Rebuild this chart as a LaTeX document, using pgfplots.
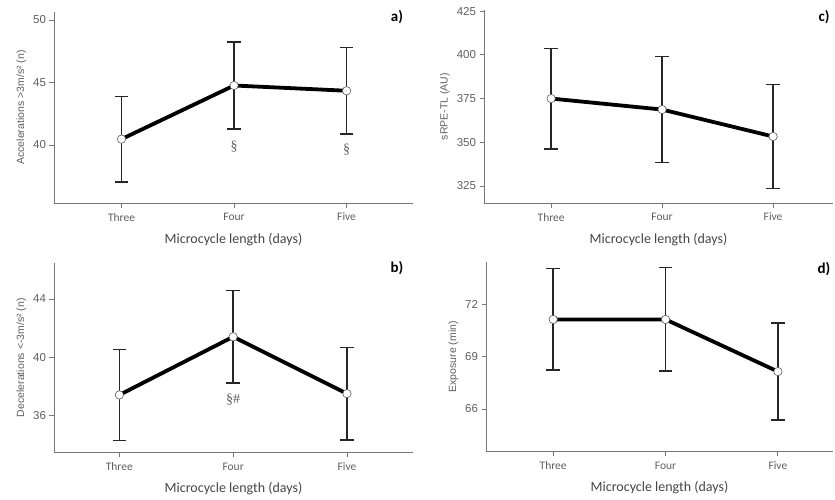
\documentclass[border=0pt]{standalone}
\usepackage{fontspec}
\setmainfont{Carlito}
\newfontfamily\arialf{Liberation Sans}
\newfontfamily\serf{Liberation Serif}
\usepackage{pgfplots}
\pgfplotsset{compat=1.18}

\definecolor{axgray}{RGB}{120,120,120}
\definecolor{labgray}{RGB}{95,95,95}
\definecolor{titgray}{RGB}{70,70,70}

\tikzset{sym/.style={font=\serf\fontsize{14}{15}\selectfont, text=labgray}}

\pgfplotsset{
  panel/.style={
    scale only axis,
    axis x line=bottom, axis y line=left,
    axis line style={draw=axgray, line width=0.9pt, -},
    tick style={draw=axgray, line width=0.9pt},
    tick align=outside, major tick length=4.5pt,
    xtick={0,1,2}, xticklabels={Three,Four,Five},
    x tick label style={font=\fontsize{11.5}{12}\selectfont, text=labgray, yshift=-2pt},
    y tick label style={font=\arialf\fontsize{11.5}{12}\selectfont, text=labgray},
    /pgf/number format/assume math mode=true,
    xlabel={Microcycle length (days)},
    xlabel style={font=\fontsize{14}{15}\selectfont, text=titgray, yshift=-5pt},
    ylabel style={font=\arialf\fontsize{10.5}{12}\selectfont, text=labgray},
    clip=false,
  },
  ebar/.style={draw=none, mark=none, forget plot,
    error bars/.cd, y dir=both, y explicit,
    error bar style={draw=black!85, line width=1.5pt},
    error mark options={rotate=90, draw=black!85, line width=1.5pt, mark size=6.8pt}},
  mline/.style={black, line width=3.8pt, mark=*, mark size=4.2pt,
    mark options={fill=white, draw=black!65, line width=0.6pt}},
}

\begin{document}
\begin{tikzpicture}[x=1pt,y=1pt]
\useasboundingbox (0,0) rectangle (835,499);

% a)
\begin{axis}[panel, at={(54pt,296pt)}, anchor=south west,
  width=359pt, height=191pt,
  xmin=-0.6, xmax=2.59, ymin=35.36, ymax=50.64,
  ytick={40,45,50},
  ylabel={Accelerations >3m/s² (n)}]
\addplot[ebar] coordinates {(0,40.47) +- (0,3.42) (1,44.76) +- (0,3.48) (2,44.34) +- (0,3.46)};
\addplot[mline] coordinates {(0,40.47) (1,44.76) (2,44.34)};
\node[sym] at (axis cs:1,39.87) {§};
\node[sym] at (axis cs:2,39.6) {§};
\end{axis}

% c)
\begin{axis}[panel, at={(484pt,296pt)}, anchor=south west,
  width=349pt, height=193pt,
  xmin=-0.605, xmax=2.54, ymin=315.3, ymax=425.6,
  ytick={325,350,375,400,425},
  ylabel={sRPE-TL (AU)}]
\addplot[ebar] coordinates {(0,375) +- (0,28.7) (1,368.7) +- (0,30.2) (2,353.3) +- (0,29.7)};
\addplot[mline] coordinates {(0,375) (1,368.7) (2,353.3)};
\end{axis}

% b)
\begin{axis}[panel, at={(54pt,46.3pt)}, anchor=south west,
  width=359pt, height=190pt,
  xmin=-0.574, xmax=2.58, ymin=33.46, ymax=46.49,
  ytick={36,40,44},
  ylabel={Decelerations <-3m/s² (n)}]
\addplot[ebar] coordinates {(0,37.42) +- (0,3.11) (1,41.41) +- (0,3.18) (2,37.51) +- (0,3.17)};
\addplot[mline] coordinates {(0,37.42) (1,41.41) (2,37.51)};
\node[sym] at (axis cs:1,37.07) {§\#};
\end{axis}

% d)
\begin{axis}[panel, at={(486pt,47.3pt)}, anchor=south west,
  width=347pt, height=190pt,
  xmin=-0.598, xmax=2.49, ymin=63.56, ymax=74.42,
  ytick={66,69,72},
  ylabel={Exposure (min)}]
\addplot[ebar] coordinates {(0,71.12) +- (0,2.9) (1,71.12) +- (0,2.96) (2,68.14) +- (0,2.78)};
\addplot[mline] coordinates {(0,71.12) (1,71.12) (2,68.14)};
\end{axis}

\node[font=\bfseries\fontsize{15}{16}\selectfont] at (397,482) {a)};
\node[font=\bfseries\fontsize{15}{16}\selectfont] at (824,482) {c)};
\node[font=\bfseries\fontsize{15}{16}\selectfont] at (397,231) {b)};
\node[font=\bfseries\fontsize{15}{16}\selectfont] at (824,230) {d)};
\end{tikzpicture}
\end{document}
